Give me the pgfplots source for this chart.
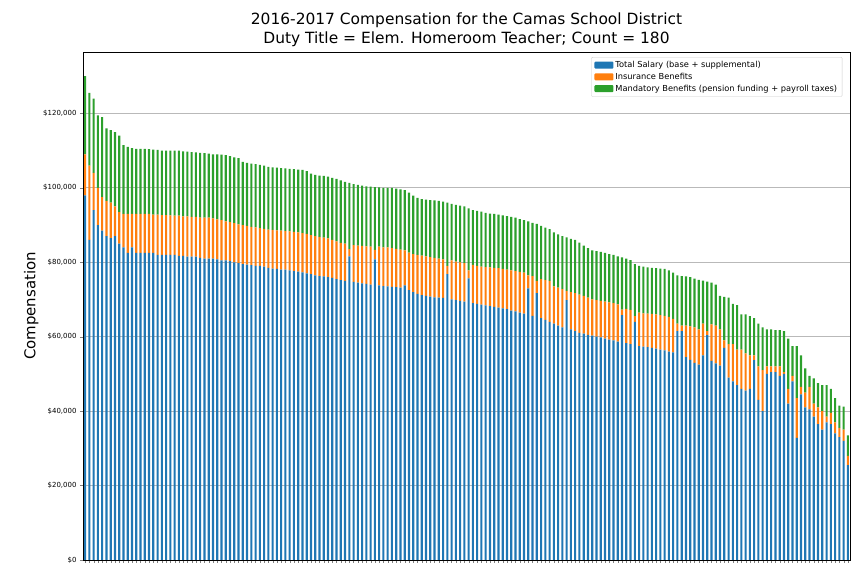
\documentclass[border=0pt]{standalone}
\usepackage{pgfplots}
\pgfplotsset{compat=1.18}
\usepackage{pgfplotstable}
\usepackage{fontspec}
\setmainfont{DejaVu Sans}
\definecolor{c0}{HTML}{1F77B4}
\definecolor{c1}{HTML}{FF7F0E}
\definecolor{c2}{HTML}{2CA02C}
\pgfplotstableread{
S IT T
98 109 130
86 106 125.5
94 104 124
90 100 119.5
88.5 97.5 119
87 96.5 116
86.5 96 115.5
87 95 115
85 93.5 114
84 93 111.5
82.5 93 111
84 93 110.7
82.5 93 110.5
82.5 93 110.5
82.5 93 110.5
82.5 93 110.4
82.5 92.8 110.3
82 92.8 110.2
82 92.7 110
82 92.7 110
82 92.6 110
82 92.5 110
81.7 92.5 110
81.7 92.3 109.8
81.5 92.3 109.7
81.5 92.2 109.6
81.5 92.2 109.5
81.2 92 109.4
81 92 109.3
81 92 109.2
81 91.8 109
80.8 91.5 109
80.5 91.3 108.9
80.5 91 108.8
80.3 90.8 108.5
80 90.5 108.2
79.8 90.2 108
79.5 90 107
79.4 89.8 106.7
79.2 89.5 106.5
79 89.4 106.4
79 89.2 106.2
78.8 89 106
78.5 88.8 105.6
78.3 88.7 105.5
78.2 88.6 105.4
78 88.5 105.3
78 88.4 105.2
77.8 88.3 105.1
77.6 88.2 105
77.5 88 104.9
77.3 87.8 104.8
77 87.6 104.5
76.8 87.3 103.8
76.5 87 103.5
76.3 86.8 103.3
76.2 86.6 103.2
76 86.4 103
75.8 86 102.7
75.5 85.6 102.4
75.2 85.2 102
75 85 101.6
81.6 83.5 101.3
74.7 84.6 101
74.5 84.5 100.8
74.3 84.4 100.6
74.2 84.3 100.4
74 84.2 100.3
80.8 83.3 100.2
73.8 84.2 100.1
73.6 84 100
73.5 84 100
73.4 83.8 100
73.3 83.6 99.8
73.2 83.4 99.6
73.8 83.2 99.4
72.5 82.6 98.7
72 82.2 97.9
71.5 82 97.3
71.2 81.8 97
71 81.6 96.8
70.8 81.4 96.7
70.6 81.2 96.6
70.5 81 96.5
70.4 80.8 96.3
76.8 79 96
70 80.5 95.7
69.8 80.2 95.4
69.6 80 95.2
69.4 79.8 95
75.7 77.8 94.5
69 79.3 94
68.8 79 93.8
68.6 78.8 93.6
68.4 78.7 93.3
68.2 78.6 93.1
68 78.5 93
67.8 78.4 92.8
67.6 78.2 92.6
67.4 78 92.4
67 77.8 92.2
66.8 77.6 92
66.5 77.4 91.6
66.2 77.2 91.3
73 76.5 91
65.6 76.3 90.6
71.7 75 90.3
65 75.5 89.8
64.5 75.2 89.3
64 75 88.9
63.5 73.5 88
63 73.2 87.5
62.5 72.8 87
69.8 72.3 86.7
62 72 86.3
61.5 71.7 86
61 71.3 85.3
60.8 71 84.5
60.5 70.5 83.8
60.3 70 83.2
60 69.8 83
59.8 69.6 82.8
59.5 69.4 82.5
59.2 69.2 82.2
59 69 82
58.7 68.7 81.6
65.8 67.3 81.3
58.3 67.5 81
58 67.2 80.6
64 65.5 79.5
57.5 66.5 79
57.3 66.3 78.8
57.2 66.2 78.6
57 66.1 78.5
56.8 66 78.4
56.5 65.8 78.3
56.3 65.6 78.2
56 65.3 77.8
55.8 64.8 77.2
61.5 63.5 76.5
61.5 63 76.3
54.5 63 76.2
53.8 62.8 76
53 62.5 75.6
52.5 62 75.3
55 63.5 75.1
60.4 61.5 74.8
53.5 63.3 74.5
52.8 63 74
52.2 62 71
57 59 70.7
49 58 70.5
48 58 68.8
47 56.5 68.5
46 56.5 66
45.5 55.5 66
46 55 65.5
53.7 55 65
43 52 63.5
40 51 62.5
50 52 62
50.5 52 62
50.5 52 61.8
49.5 52 61.8
50 50.5 61.5
42 46 59.5
48 49.5 57.5
32.8 43.5 57.5
44.5 46.5 55
41 45 51.5
40.5 46.5 49.5
38.5 42 48.8
36.5 41 47.5
35 40 47
37 38.5 47
36.5 39.5 46
34 37 43.5
33 35.5 41.5
32 35 41.2
25.5 28 33.5
}\data
\begin{document}
\begin{tikzpicture}
\useasboundingbox (-83bp,-16bp) rectangle (781bp,560bp);
\begin{axis}[
  scale only axis, width=767bp, height=508bp,
  ybar stacked, bar width=0.5,
  xmin=-0.5, xmax=179.5, ymin=0, ymax=136.5,
  xtick={0,...,179}, xticklabels={},
  major tick length=3bp,
  tick align=outside, tick pos=left,
  ytick={0,20,40,60,80,100,120},
  yticklabels={\$0,{\$20,000},{\$40,000},{\$60,000},{\$80,000},{\$100,000},{\$120,000}},
  yticklabel style={font=\fontsize{7}{8}\selectfont},
  ymajorgrids, grid style={gray!55, line width=0.8pt},
  ylabel={Compensation}, ylabel style={font=\fontsize{15}{17}\selectfont, yshift=-2bp},
  title={2016-2017 Compensation for the Camas School District\\Duty Title = Elem. Homeroom Teacher; Count = 180},
  title style={font=\fontsize{15.5}{18.5}\selectfont, align=center, yshift=-4bp},
  legend style={at={(0.99,0.99)}, anchor=north east, font=\fontsize{8.3}{10}\selectfont, draw=gray!40, rounded corners=1pt, row sep=0pt},
  legend cell align=left,
  legend image code/.code={\fill[#1] (0bp,-3.5bp) rectangle (19bp,3.5bp);},
]
\addplot[fill=c0, draw=none] table[x expr=\coordindex, y=S] {\data};
\addplot[fill=c1, draw=none] table[x expr=\coordindex, y expr=\thisrow{IT}-\thisrow{S}] {\data};
\addplot[fill=c2, draw=none] table[x expr=\coordindex, y expr=\thisrow{T}-\thisrow{IT}] {\data};
\legend{Total Salary (base + supplemental), Insurance Benefits, Mandatory Benefits (pension funding + payroll taxes)}
\end{axis}
\end{tikzpicture}
\end{document}
